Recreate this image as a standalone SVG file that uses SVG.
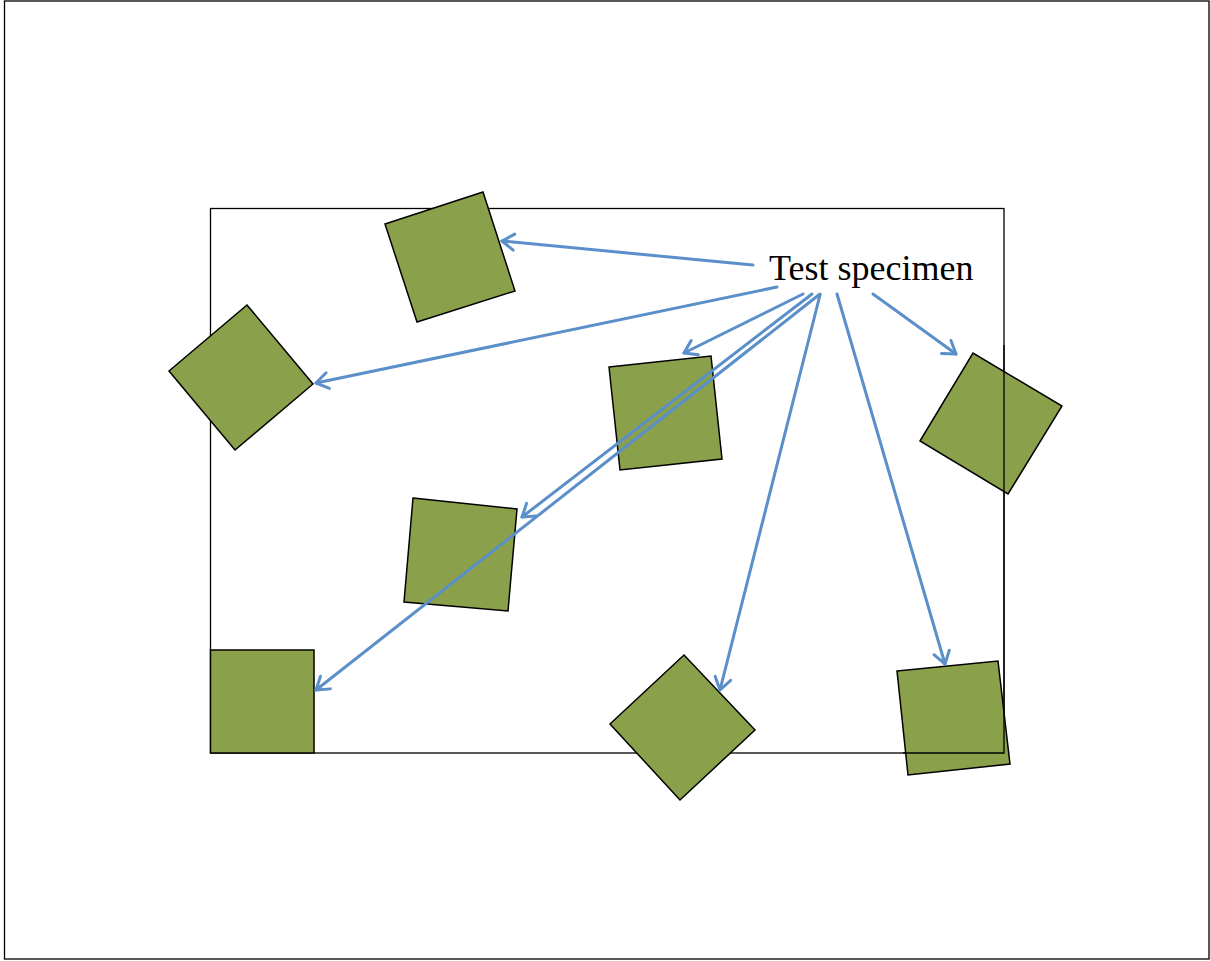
<svg xmlns="http://www.w3.org/2000/svg" width="1210" height="961" viewBox="0 0 1210 961">
<style>
.frame{fill:none;stroke:#000;stroke-width:1.3}
.sq{fill:#8aa04a;stroke:#000;stroke-width:1.5;stroke-linejoin:miter}
.arr{fill:none;stroke:#5b8fc9;stroke-width:3;stroke-linecap:round;marker-end:url(#ah)}
.lbl{font-family:"Liberation Serif","Times New Roman",serif;font-size:36px;fill:#000}
</style>
<defs>
<marker id="ah" markerUnits="userSpaceOnUse" markerWidth="24" markerHeight="24" refX="16" refY="12" orient="auto">
<path d="M4,4 L16,12 L4,20" fill="none" stroke="#5b8fc9" stroke-width="3" stroke-linecap="round" stroke-linejoin="round"/>
</marker>
</defs>
<rect width="1210" height="961" fill="#fff"/>
<rect class="frame" x="4.5" y="1" width="1204.5" height="958"/>
<rect class="frame" x="210.5" y="208.5" width="793.5" height="544.5"/>
<g id="specimen1"><polygon class="sq" points="385,224 483,192 515,291 417,322"/></g>
<g id="specimen2"><polygon class="sq" points="169,371 247,305 313,384 235,450"/></g>
<g id="specimen3"><polygon class="sq" points="609,367 711,356 722,459 620,470"/></g>
<g id="specimen4"><polygon class="sq" points="413,498 517,509 508,611 404,602"/></g>
<g id="specimen5"><polygon class="sq" points="210.5,650 314,650 314,753 210.5,753"/></g>
<g id="specimen6"><polygon class="sq" points="610,724 684,655 755,730 680,800"/></g>
<g id="specimen7"><polygon class="sq" points="920,441 973,353 1062,406 1008,494"/></g>
<g id="specimen8"><polygon class="sq" points="897,671 998,661 1010,764 908,775"/></g>
<polyline class="frame" points="1004,345 1004,753 903,753"/>
<g id="label"><text class="lbl" x="769" y="280">Test specimen</text></g>
<g id="connectors">
<line class="arr" x1="753" y1="265" x2="502" y2="241"/>
<line class="arr" x1="777" y1="287" x2="316" y2="383"/>
<line class="arr" x1="803" y1="294" x2="684" y2="353"/>
<line class="arr" x1="812" y1="294" x2="522" y2="517"/>
<line class="arr" x1="820" y1="294" x2="316" y2="690"/>
<line class="arr" x1="820" y1="295" x2="720" y2="690"/>
<line class="arr" x1="837" y1="294" x2="945" y2="664"/>
<line class="arr" x1="873" y1="294" x2="956" y2="354"/>
</g>
</svg>
